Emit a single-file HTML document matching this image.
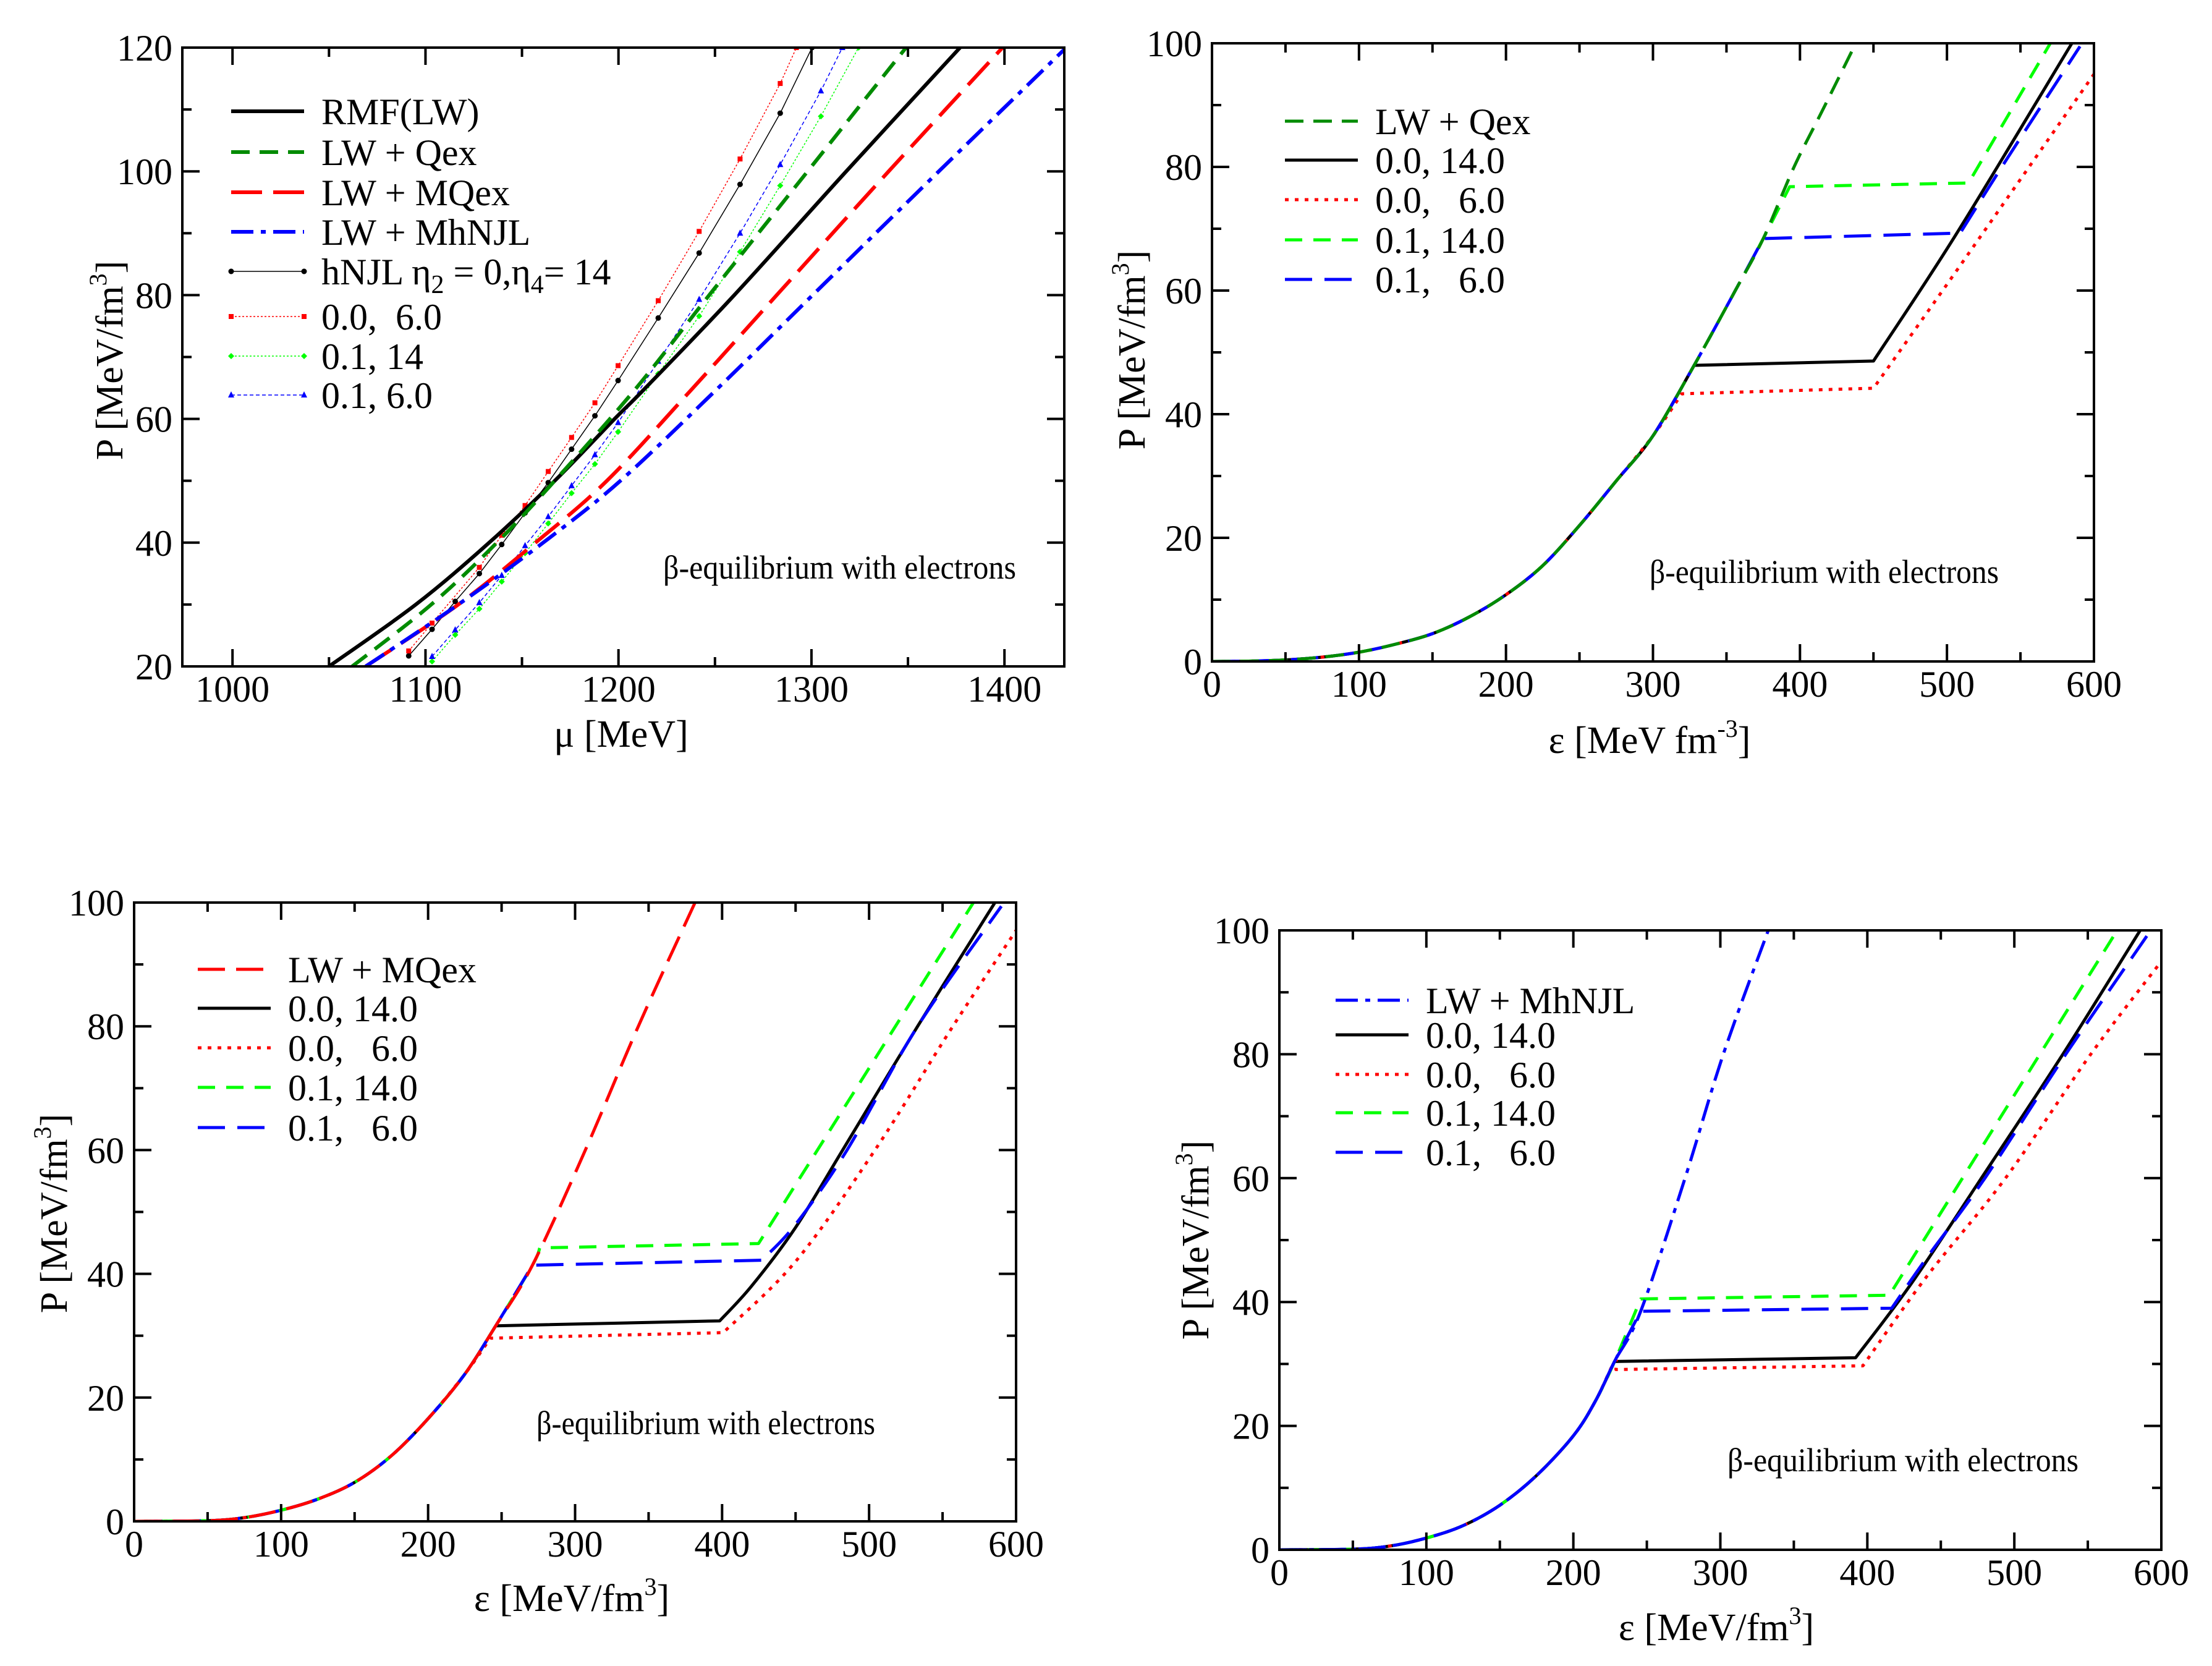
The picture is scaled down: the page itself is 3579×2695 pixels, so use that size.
<!DOCTYPE html>
<html><head><meta charset="utf-8"><style>
html,body{margin:0;padding:0;background:#fff;}
svg, svg text{font-family:"Liberation Serif","DejaVu Serif","Times New Roman",serif;}
</style></head><body>
<svg id="fig" width="3579" height="2690" viewBox="0 0 3579 2690" xmlns="http://www.w3.org/2000/svg"></svg>
<script>
// ---------- Panel 1 data (mu vs P) ----------
const p1RmfMu=[1050,1095,1133,1167,1198,1214,1260,1318,1377];
const p1RmfP=[20,30,40,50,60,65,80,100,120];
const p1QexMu=[1062,1103,1137,1167,1208.7,1247,1298,1349];
const p1QexP=[20,30,40,50,64.8,80,100,120];
const p1MQexMu=[1069,1117,1157,1194,1238,1282,1340,1399];
const p1MQexP=[20,30,40,50,64.8,80,100,120];
const p1MhMu=[1069,1117,1161,1201,1251,1300.6,1366,1432];
const p1MhP=[20,30,40,50,64.8,80,100,120];
const p1hA_Mu=[1091.3,1103.4,1115.4,1127.9,1139.5,1151.6,1163.6,1175.7,1187.8,1199.8,1220.6,1241.8,1263,1283.8,1300.3];
const p1hA_P=[21.7,26,30.5,35,39.7,44.8,49.7,55.1,60.5,66.2,76.3,86.8,97.9,109.4,120];
const p1hB_Mu=[1091.3,1103.4,1127.9,1139.5,1151.6,1163.6,1175.7,1187.8,1199.8,1220.6,1241.8,1263,1283.8,1292.2];
const p1hB_P=[22.5,27.0,36.0,41.2,46.0,51.5,57.0,62.6,68.6,79.1,90.3,102.0,114.2,120];
const p1hC_Mu=[1103.4,1115.4,1127.9,1139.5,1151.6,1163.6,1175.7,1187.8,1199.8,1220.6,1241.8,1263,1283.8,1304.9,1324.4];
const p1hC_P=[20.8,25.1,29.3,33.7,38.3,43.1,48,52.7,57.9,67.3,76.6,87,97.7,108.9,120];
const p1hD_Mu=[1103.4,1115.4,1127.9,1139.5,1151.6,1163.6,1175.7,1187.8,1199.8,1220.6,1241.8,1263,1283.8,1304.9,1316];
const p1hD_P=[21.6,25.9,30.3,34.7,39.5,44.2,49.2,54.2,59.4,69.3,79.3,90,101.1,113,120];
// ---------- Panel 2 data ----------
const p2CommonE=[0,25,50,75,100,125,150,175,200,225,250,275,300,328,356,375,396,415,438];
const p2CommonP=[0,0.05,0.25,0.7,1.5,2.8,4.5,7.2,10.8,15.5,22,29.2,36.5,47.9,60,68.4,80,89,100];
const p2BlackE=[328,450,506,585];            const p2BlackP=[47.9,48.6,69,100];
const p2RedE=[319.6,450,500,550,600];        const p2RedP=[43.3,44.2,61,78,95];
const p2GreenE=[393,514.7,570.3];            const p2GreenP=[76.8,77.4,100];
const p2BlueE=[375,509,540,590.5];           const p2BlueP=[68.4,69.3,81,99.5];
// ---------- Panel 3 data ----------
const p3CommonE=[0,50,75,100,125,150,175,200,225,246,271,307,343,381.6];
const p3CommonP=[0,0.1,0.6,1.8,3.6,6.3,10.6,16.6,23.8,31.6,41.4,60,80,100];
const p3BlackE=[246,398.4,420,450,482,533,585.6];  const p3BlackP=[31.6,32.4,38,47.5,60,80,100];
const p3RedE=[242.4,400.8,450,504,557,600];        const p3RedP=[29.6,30.5,42,60,80,95.5];
const p3GreenE=[276,424.8,571];                    const p3GreenP=[44.2,44.9,100];
const p3BlueE=[271,427,450,485,533,590];           const p3BlueP=[41.4,42.2,48,60,80,99.4];
// ---------- Panel 4 data ----------
const p4CommonE=[0,50,75,100,125,150,175,200,215,228,245.8,276,302,332.6];
const p4CommonP=[0,0.1,0.6,1.9,3.9,7.2,12,18.4,24,30.4,38.5,60,80,100];
const p4BlackE=[228,392,430,477.6,533,585.6];      const p4BlackP=[30.4,31,43,60,80,100];
const p4RedE=[229,397,440,494,552,600];            const p4RedP=[29.1,29.7,44,60,80,95];
const p4GreenE=[245.8,415,570];                    const p4GreenP=[40.5,41.1,100];
const p4BlueE=[245.8,416.6,440,480,535,592.8];     const p4BlueP=[38.5,39,47,60,80,100];

const NS="http://www.w3.org/2000/svg";
const FONT="'Liberation Serif', 'DejaVu Serif', 'Times New Roman', serif";
const svg=document.getElementById('fig');
function mk(tag,attrs,parent){const e=document.createElementNS(NS,tag);for(const k in attrs)e.setAttribute(k,attrs[k]);(parent||svg).appendChild(e);return e;}
function nb(s){return s.replace(/ /g,'\u00a0');}

function smooth(pts){
  if(pts.length<3)return pts.map((p,i)=>(i?'L':'M')+p[0].toFixed(1)+' '+p[1].toFixed(1)).join(' ');
  let d='M'+pts[0][0].toFixed(1)+' '+pts[0][1].toFixed(1);
  for(let i=0;i<pts.length-1;i++){
    const p0=pts[i-1]||pts[i],p1=pts[i],p2=pts[i+1],p3=pts[i+2]||p2;
    const c1=[p1[0]+(p2[0]-p0[0])/6,p1[1]+(p2[1]-p0[1])/6],c2=[p2[0]-(p3[0]-p1[0])/6,p2[1]-(p3[1]-p1[1])/6];
    d+=' C'+c1[0].toFixed(1)+' '+c1[1].toFixed(1)+' '+c2[0].toFixed(1)+' '+c2[1].toFixed(1)+' '+p2[0].toFixed(1)+' '+p2[1].toFixed(1);
  }
  return d;
}

function panel(id,L,R,T,B,x0,x1,y0,y1,xMaj,xMin,yMaj,yMin){
  const g=mk('g',{'font-family':FONT});
  
  
  const sx=v=>L+(v-x0)/(x1-x0)*(R-L), sy=v=>B-(v-y0)/(y1-y0)*(B-T);
  const cp=mk('clipPath',{id:id+'-clip'},g);mk('rect',{x:L,y:T,width:R-L,height:B-T},cp);
  const plot=mk('g',{'clip-path':'url(#'+id+'-clip)'},g);
  
  
  const fr=mk('rect',{x:L,y:T,width:R-L,height:B-T,fill:'none',stroke:'#000','stroke-width':4},g);
  
  
  const tk=mk('g',{stroke:'#000','stroke-width':4},g);
  
  
  for(let v=Math.ceil(x0/xMin)*xMin;v<=x1+1e-6;v+=xMin){
    const maj=Math.abs(v/xMaj-Math.round(v/xMaj))<1e-6, len=maj?28:15, x=sx(v);
    mk('line',{x1:x,x2:x,y1:B,y2:B-len},tk);mk('line',{x1:x,x2:x,y1:T,y2:T+len},tk);
    if(maj){const t=mk('text',{x:x,y:B+57,'font-size':60,'text-anchor':'middle','font-family':FONT},g);t.textContent=v;
      
      }
  }
  for(let v=Math.ceil(y0/yMin)*yMin;v<=y1+1e-6;v+=yMin){
    const maj=Math.abs(v/yMaj-Math.round(v/yMaj))<1e-6, len=maj?28:15, y=sy(v);
    mk('line',{x1:L,x2:L+len,y1:y,y2:y},tk);mk('line',{x1:R,x2:R-len,y1:y,y2:y},tk);
    if(maj){const t=mk('text',{x:L-16,y:y+21,'font-size':60,'text-anchor':'end','font-family':FONT},g);t.textContent=v;
      
      }
  }
  return {g,plot,sx,sy};
}
function markerShape(par,shape,x,y,color){
  if(shape==='circle')return mk('circle',{cx:x,cy:y,r:4.5,fill:color},par);
  if(shape==='diamond')return mk('path',{d:`M${x} ${y-5}L${x+5} ${y}L${x} ${y+5}L${x-5} ${y}Z`,fill:color},par);
  if(shape==='triangle')return mk('path',{d:`M${x} ${y-6}L${x+5} ${y+4}L${x-5} ${y+4}Z`,fill:color},par);
  return mk('rect',{x:x-4,y:y-4,width:8,height:8,fill:color},par);
}
function series(P,name,xs,ys,color,w,dash,opts){
  opts=opts||{};
  const pts=xs.map((x,i)=>[P.sx(x),P.sy(ys[i])]);
  let d;
  if(opts.straight){d=pts.map((p,i)=>(i?'L':'M')+p[0].toFixed(1)+' '+p[1].toFixed(1)).join(' ');}
  else{
    const ks=(opts.kinks||[]).filter(k=>k>0&&k<pts.length-1);
    const cuts=[0].concat(ks,[pts.length-1]);
    d='';
    for(let i=0;i<cuts.length-1;i++){let s=smooth(pts.slice(cuts[i],cuts[i+1]+1));if(i)s=s.replace(/^M[^ ]+ [^ CL]+/,'');d+=s+' ';}
  }
  const p=mk('path',{d:d,fill:'none',stroke:color,'stroke-width':w,'stroke-dasharray':dash||'none','stroke-linejoin':'round'},P.plot);
  
  
  if(opts.marker){pts.forEach(pt=>{const m=markerShape(P.plot,opts.marker,pt[0],pt[1],color);
    
    });}
}
function legend(P,name,x,y,color,w,dash,label,marker){
  const g=mk('g',{},P.g);
  
  
  mk('line',{x1:x,x2:x+118,y1:y,y2:y,stroke:color,'stroke-width':w,'stroke-dasharray':dash||'none'},g);
  if(marker){markerShape(g,marker,x,y,color);markerShape(g,marker,x+118,y,color);}
  const t=mk('text',{x:x+146,y:y+21,'font-size':60,'font-family':FONT},g);t.innerHTML=label;
}
function text(P,name,x,y,str,size,anchor,rot,len){
  const a={x:x,y:y,'font-size':size,'text-anchor':anchor||'start','font-family':FONT};
  if(rot)a.transform='rotate(-90 '+x+' '+y+')';
  if(len){a.textLength=len;a.lengthAdjust='spacingAndGlyphs';}
  const t=mk('text',a,P.g);t.innerHTML=str;
  
  
}
const sup='<tspan dy="-26" font-size="40">3</tspan><tspan dy="26">]</tspan>';
const DG='#008b00',LG='#00ff00',RD='#ff0000',BL='#0000ff';

// ---- Panel 1 ----
const P1=panel('panel-mu',295,1722,77,1078,974,1431,20,120,100,50,20,10);
series(P1,'hnjl-0-14',p1hA_Mu,p1hA_P,'#000',1.5,null,{marker:'circle',straight:true});
series(P1,'hnjl-0-6',p1hB_Mu,p1hB_P,RD,1.5,'3 3',{marker:'square',straight:true});
series(P1,'hnjl-01-14',p1hC_Mu,p1hC_P,LG,1.5,'3 3',{marker:'diamond',straight:true});
series(P1,'hnjl-01-6',p1hD_Mu,p1hD_P,BL,1.5,'6 4',{marker:'triangle',straight:true});
series(P1,'rmf-lw',p1RmfMu,p1RmfP,'#000',6);
series(P1,'lw-qex',p1QexMu,p1QexP,DG,6,'30 16');
series(P1,'lw-mqex',p1MQexMu,p1MQexP,RD,6,'50 18');
series(P1,'lw-mhnjl',p1MhMu,p1MhP,BL,6,'36 12 8 12');
legend(P1,'legend-rmf',374,180,'#000',6,null,'RMF(LW)');
legend(P1,'legend-qex',374,246,DG,6,'30 16','LW + Qex');
legend(P1,'legend-mqex',374,311,RD,6,'50 18','LW + MQex');
legend(P1,'legend-mhnjl',374,375,BL,6,'36 12 8 12','LW + MhNJL');
legend(P1,'legend-hnjl-0-14',374,439,'#000',1.5,null,'hNJL η<tspan dy="14" font-size="42">2</tspan><tspan dy="-14"> = 0,η</tspan><tspan dy="14" font-size="42">4</tspan><tspan dy="-14">= 14</tspan>','circle');
legend(P1,'legend-hnjl-0-6',374,512,RD,1.5,'3 3',nb('0.0,  6.0'),'square');
legend(P1,'legend-hnjl-01-14',374,576,LG,1.5,'3 3','0.1, 14','diamond');
legend(P1,'legend-hnjl-01-6',374,639,BL,1.5,'6 4','0.1, 6.0','triangle');
text(P1,'y-axis-title-mu',198,583,'P [MeV/fm'+sup,62,'middle',true);
text(P1,'x-axis-title-mu',1005,1208,'μ [MeV]',62,'middle');
text(P1,'annotation-beta-eq',1073,936,'β-equilibrium with electrons',54,'start',false,571);

// ---- generic EOS panels ----
function branch(P,name,cE,cP,bE,bP,color,dash){
  const n=cE.filter(e=>e<bE[0]).length;
  series(P,name,cE.slice(0,n).concat(bE),cP.slice(0,n).concat(bP),color,5,dash,{kinks:[n,n+1]});
}
function eosPanel(id,L,R,T,B,cE,cP,bE,bP,rE,rP,gE,gP,blE,blP,main,lx,ly,ylx,yly,xlx,xly,xlabel,ax,ay,aw){
  const P=panel(id,L,R,T,B,0,600,0,100,100,50,20,10);
  branch(P,'curve-0-14',cE,cP,bE,bP,'#000',null);
  branch(P,'curve-0-6',cE,cP,rE,rP,RD,'6 10');
  branch(P,'curve-01-14',cE,cP,gE,gP,LG,'28 18');
  branch(P,'curve-01-6',cE,cP,blE,blP,BL,'44 20');
  series(P,'curve-'+main.name,cE,cP,main.color,5,main.dash);
  legend(P,'legend-'+main.name,lx,ly[0],main.color,5,main.dash,main.label);
  legend(P,'legend-0-14',lx,ly[1],'#000',5,null,'0.0, 14.0');
  legend(P,'legend-0-6',lx,ly[2],RD,5,'6 10',nb('0.0,   6.0'));
  legend(P,'legend-01-14',lx,ly[3],LG,5,'28 18','0.1, 14.0');
  legend(P,'legend-01-6',lx,ly[4],BL,5,'44 20',nb('0.1,   6.0'));
  text(P,'y-axis-title',ylx,yly,'P [MeV/fm'+sup,62,'middle',true);
  text(P,'x-axis-title',xlx,xly,xlabel,62,'middle');
  text(P,'annotation-beta-eq',ax,ay,'β-equilibrium with electrons',54,'start',false,aw);
}
eosPanel('panel-qex',1961,3388,70,1070,p2CommonE,p2CommonP,p2BlackE,p2BlackP,p2RedE,p2RedP,p2GreenE,p2GreenP,p2BlueE,p2BlueP,
  {name:'lw-qex',color:DG,dash:'30 16',label:'LW + Qex'},2079,[196,259,323,388,452],1852,566,2669,1218,
  'ε [MeV fm<tspan dy="-26" font-size="40">-3</tspan><tspan dy="26">]</tspan>',2669,943,565);
eosPanel('panel-mqex',217,1644,1460,2461,p3CommonE,p3CommonP,p3BlackE,p3BlackP,p3RedE,p3RedP,p3GreenE,p3GreenP,p3BlueE,p3BlueP,
  {name:'lw-mqex',color:RD,dash:'44 18',label:'LW + MQex'},320,[1568,1631,1695,1759,1824],108,1963,925,2606,
  'ε [MeV/fm'+sup,868,2320,548);
eosPanel('panel-mhnjl',2070,3497,1505,2507,p4CommonE,p4CommonP,p4BlackE,p4BlackP,p4RedE,p4RedP,p4GreenE,p4GreenP,p4BlueE,p4BlueP,
  {name:'lw-mhnjl',color:BL,dash:'36 12 8 12',label:'LW + MhNJL'},2161,[1618,1674,1738,1800,1864],1955,2006,2777,2653,
  'ε [MeV/fm'+sup,2795,2380,568);
</script>
</body></html>
